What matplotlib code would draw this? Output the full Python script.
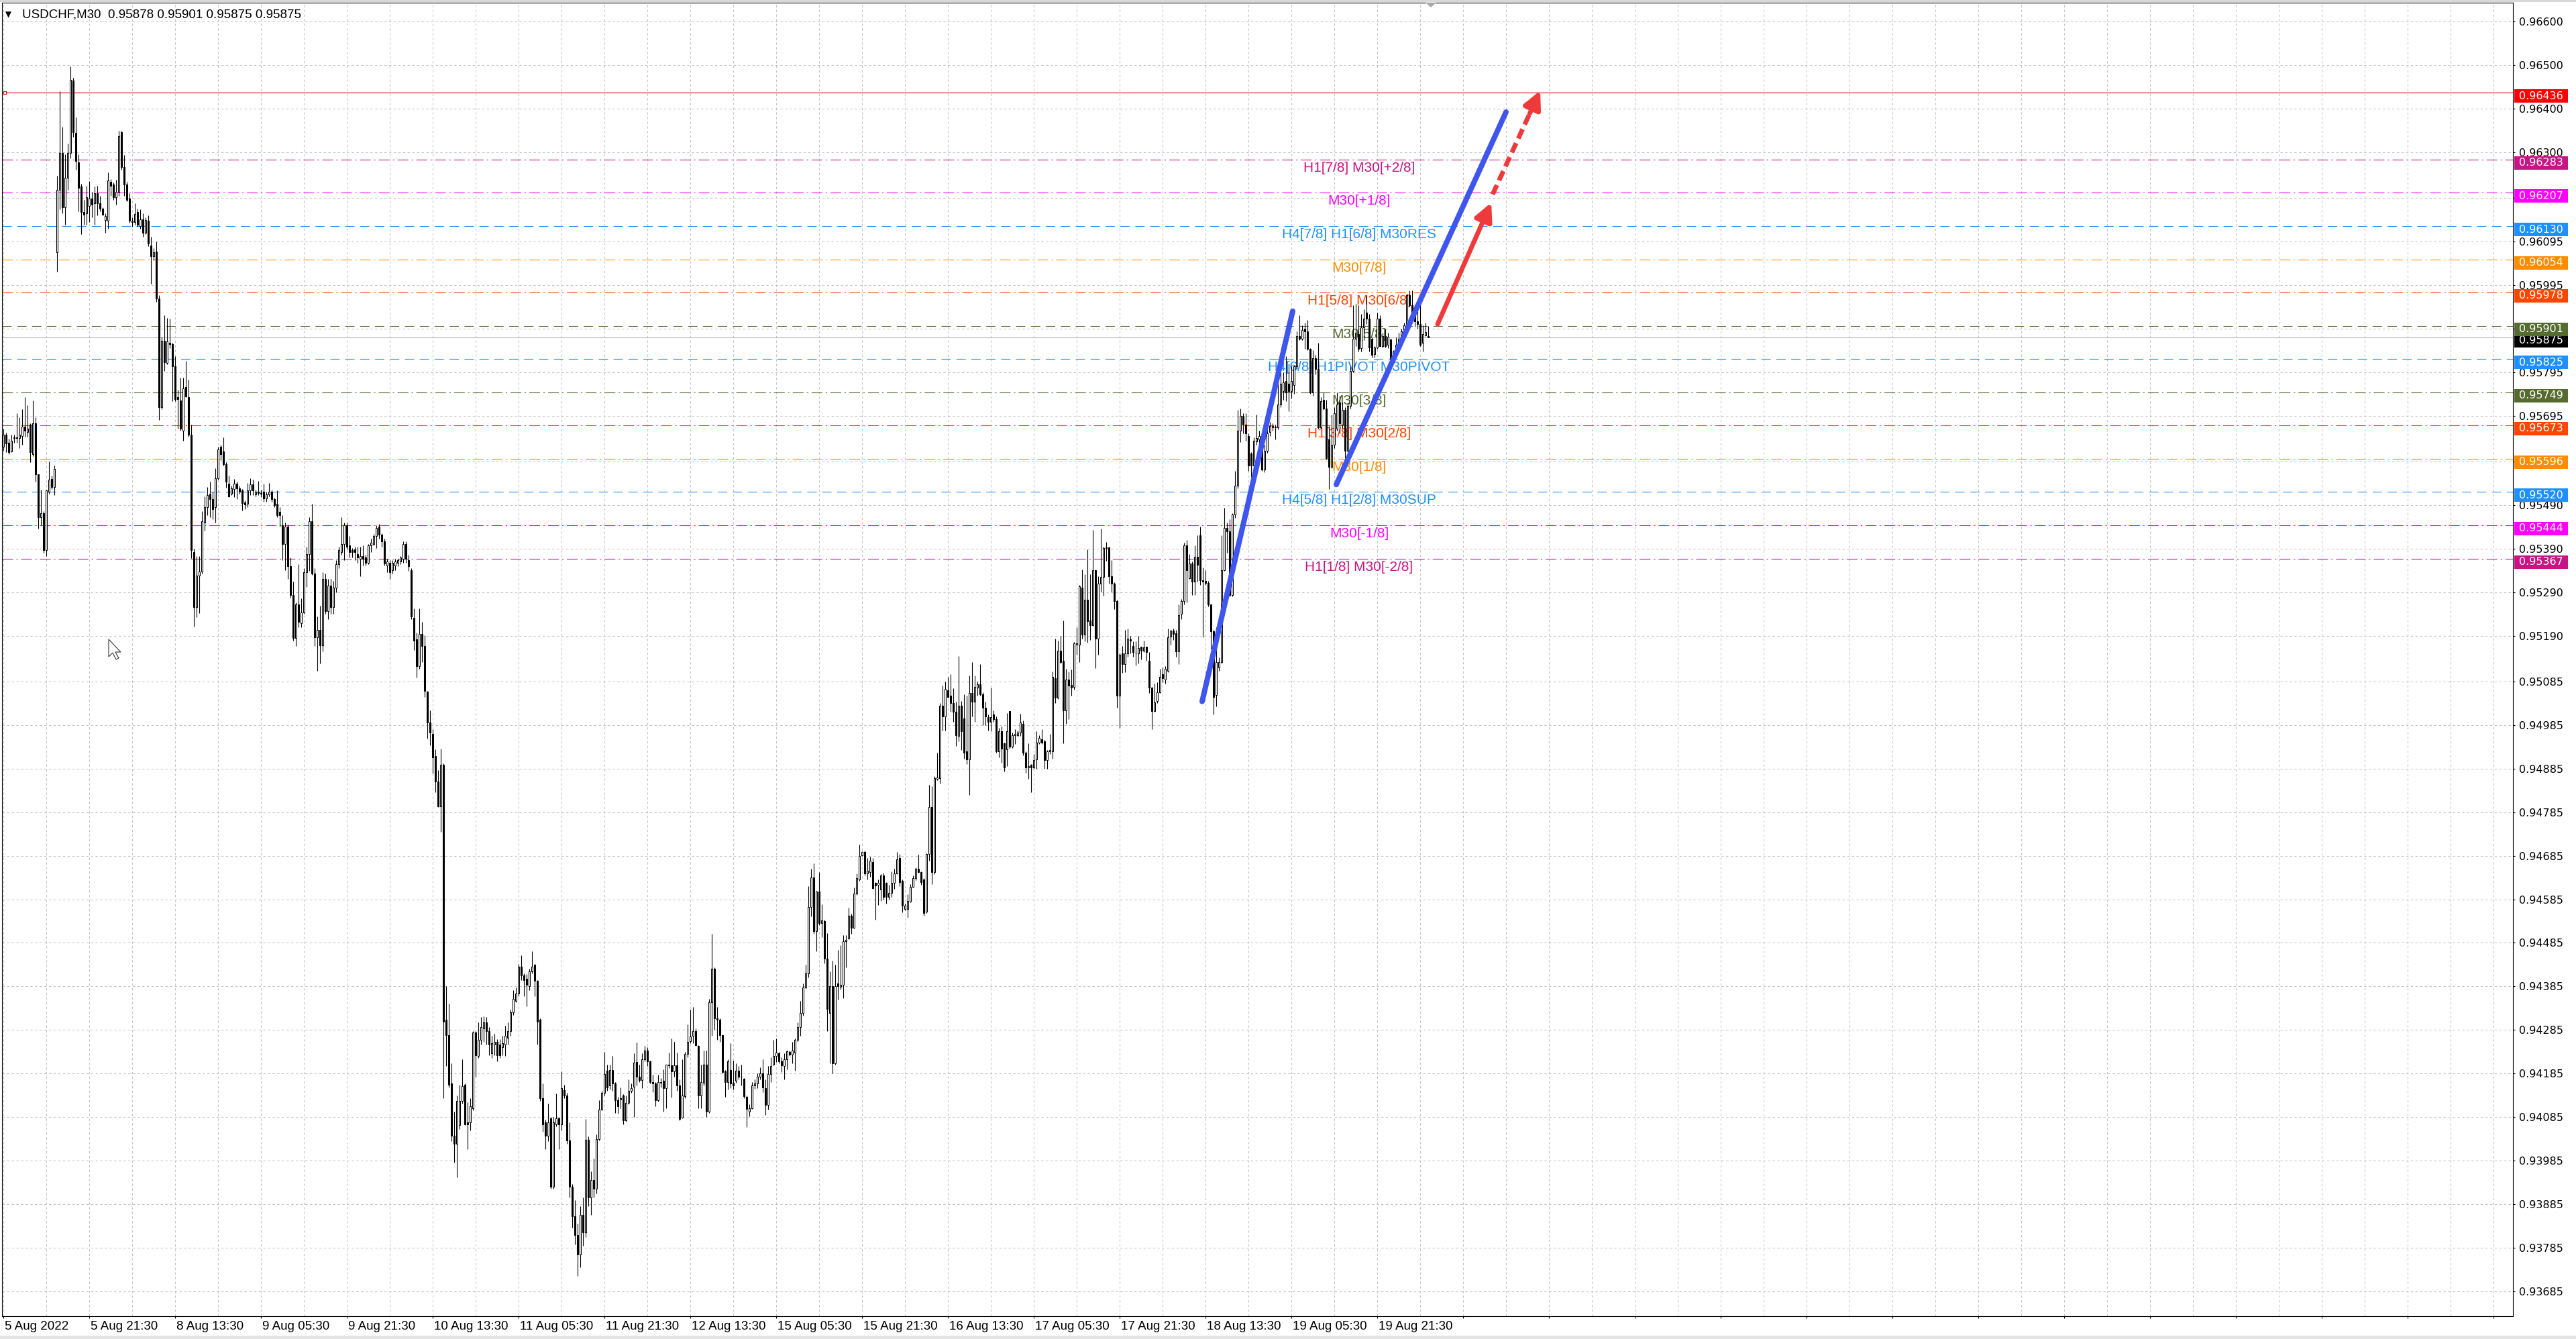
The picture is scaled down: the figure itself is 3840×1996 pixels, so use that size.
import matplotlib
matplotlib.use("Agg")
import matplotlib.pyplot as plt
import matplotlib.transforms as mtransforms
from matplotlib.patches import Rectangle, Polygon
import numpy as np

plt.rcParams['font.family'] = ['Liberation Sans', 'DejaVu Sans']
plt.rcParams['lines.scale_dashes'] = False

# USDCHF M30 candles, prices in points (1 point = 0.00001)
opens = [
    95624, 95652, 95633, 95613, 95644, 95645, 95643, 95649, 95670, 95658,
    95674, 95607, 95678, 95561, 95462, 95471, 95386, 95521, 95550, 95532,
    96070, 96214, 96298, 96173, 96241, 96298, 96464, 96344, 96277, 96221,
    96162, 96160, 96176, 96194, 96182, 96205, 96182, 96171, 96144, 96142,
    96232, 96225, 96196, 96209, 96346, 96266, 96225, 96194, 96142, 96140,
    96162, 96131, 96146, 96115, 96142, 96086, 96061, 96072, 95964, 95714,
    95867, 95816, 95863, 95859, 95809, 95737, 95730, 95661, 95760, 95737,
    95652, 95382, 95256, 95328, 95337, 95449, 95485, 95516, 95503, 95485,
    95552, 95624, 95613, 95584, 95539, 95516, 95527, 95539, 95528, 95524,
    95496, 95492, 95523, 95537, 95514, 95521, 95517, 95521, 95505, 95514,
    95521, 95503, 95492, 95474, 95444, 95400, 95440, 95349, 95283, 95185,
    95262, 95218, 95243, 95336, 95378, 95453, 95333, 95187, 95203, 95168,
    95320, 95247, 95305, 95255, 95300, 95354, 95382, 95401, 95444, 95398,
    95386, 95388, 95378, 95367, 95372, 95370, 95357, 95397, 95401, 95419,
    95440, 95422, 95407, 95351, 95357, 95341, 95351, 95357, 95361, 95367,
    95401, 95364, 95341, 95231, 95182, 95120, 95194, 95166, 95061, 94991,
    94965, 94913, 94855, 94798, 94894, 94308, 94273, 94162, 94042, 94024,
    94067, 94122, 94160, 94073, 94073, 94106, 94280, 94225, 94262, 94289,
    94302, 94283, 94231, 94252, 94258, 94252, 94246, 94252, 94267, 94283,
    94326, 94351, 94369, 94431, 94410, 94403, 94386, 94419, 94435, 94398,
    94308, 94129, 94073, 94042, 94082, 93925, 94069, 94082, 94069, 94147,
    94135, 94032, 93925, 93857, 93814, 93770, 93860, 93820, 94033, 93900,
    93940, 93920, 94035, 94102, 94140, 94192, 94158, 94193, 94162, 94124,
    94125, 94135, 94078, 94117, 94145, 94155, 94212, 94178, 94170, 94217,
    94238, 94213, 94165, 94162, 94124, 94164, 94168, 94152, 94204, 94204,
    94190, 94204, 94158, 94084, 94133, 94230, 94260, 94272, 94282, 94248,
    94135, 94164, 94206, 94097, 94348, 94426, 94312, 94308, 94273, 94190,
    94165, 94193, 94164, 94168, 94192, 94178, 94173, 94132, 94098, 94105,
    94157, 94162, 94177, 94185, 94152, 94113, 94184, 94205, 94226, 94232,
    94213, 94202, 94217, 94235, 94228, 94233, 94262, 94292, 94324, 94382,
    94415, 94568, 94635, 94512, 94602, 94530, 94535, 94448, 94324, 94386,
    94208, 94392, 94384, 94388, 94488, 94495, 94548, 94520, 94598, 94630,
    94686, 94694, 94645, 94647, 94671, 94623, 94618, 94608, 94640, 94623,
    94590, 94600, 94623, 94645, 94680, 94628, 94563, 94563, 94580, 94614,
    94633, 94655, 94647, 94631, 94557, 94689, 94797, 94647, 94862, 94863,
    95029, 95004, 95064, 95052, 95036, 95016, 94960, 95030, 95000, 94924,
    94906, 95058, 95038, 95071, 95079, 95056, 95024, 95003, 94993, 95009,
    94999, 94925, 94970, 94943, 94929, 95017, 94936, 94961, 94961, 94967,
    94988, 94921, 94888, 94894, 94888, 94906, 94945, 94953, 94947, 94905,
    94925, 94925, 95092, 95047, 95155, 95132, 95018, 95089, 95077, 95073,
    95170, 95170, 95300, 95192, 95272, 95225, 95214, 95340, 95184, 95309,
    95325, 95391, 95393, 95326, 95309, 95270, 95052, 95149, 95124, 95149,
    95182, 95166, 95151, 95149, 95164, 95155, 95164, 95132, 95071, 95017,
    95040, 95060, 95102, 95090, 95110, 95188, 95202, 95195, 95154, 95240,
    95269, 95397, 95322, 95355, 95314, 95371, 95421, 95317, 95315, 95311,
    95261, 95200, 95054, 95117, 95130, 95341, 95438, 95430, 95284, 95468,
    95534, 95661, 95695, 95675, 95648, 95608, 95581, 95636, 95641, 95648,
    95571, 95615, 95658, 95668, 95668, 95668, 95721, 95752, 95775, 95768,
    95752, 95765, 95808, 95878, 95872, 95895, 95888, 95848, 95748, 95827,
    95802, 95668, 95731, 95711, 95640, 95578, 95628, 95665, 95725, 95675,
    95708, 95615, 95718, 95798, 95872, 95882, 95850, 95898, 95932, 95918,
    95872, 95836, 95852, 95918, 95855, 95878, 95858, 95870, 95825, 95842,
    95858, 95870, 95888, 95902, 95972, 95949, 95930, 95912, 95905, 95862,
    95880, 95878]

highs = [
    95665, 95656, 95642, 95652, 95652, 95701, 95692, 95710, 95737, 95719,
    95678, 95730, 95692, 95561, 95525, 95476, 95525, 95589, 95557, 95580,
    96245, 96439, 96358, 96295, 96320, 96496, 96470, 96379, 96295, 96227,
    96191, 96223, 96234, 96209, 96221, 96223, 96200, 96173, 96160, 96254,
    96238, 96230, 96236, 96349, 96349, 96293, 96232, 96205, 96151, 96182,
    96171, 96169, 96160, 96151, 96155, 96106, 96079, 96095, 95971, 95876,
    95926, 95919, 95917, 95863, 95831, 95755, 95782, 95782, 95820, 95777,
    95674, 95390, 95373, 95373, 95476, 95510, 95532, 95543, 95521, 95575,
    95624, 95629, 95645, 95588, 95557, 95534, 95550, 95543, 95535, 95527,
    95500, 95541, 95552, 95548, 95525, 95545, 95525, 95539, 95521, 95541,
    95525, 95507, 95523, 95485, 95467, 95449, 95445, 95370, 95314, 95267,
    95354, 95275, 95345, 95394, 95462, 95493, 95345, 95234, 95259, 95336,
    95333, 95320, 95320, 95315, 95364, 95394, 95462, 95450, 95450, 95419,
    95391, 95394, 95394, 95394, 95398, 95376, 95401, 95413, 95423, 95444,
    95446, 95425, 95413, 95367, 95364, 95364, 95366, 95367, 95373, 95407,
    95407, 95376, 95345, 95252, 95197, 95252, 95222, 95191, 95063, 95018,
    94975, 94929, 94882, 94931, 94897, 94386, 94345, 94209, 94098, 94135,
    94160, 94218, 94163, 94119, 94129, 94283, 94283, 94302, 94314, 94316,
    94314, 94292, 94271, 94277, 94264, 94264, 94271, 94295, 94302, 94332,
    94376, 94382, 94437, 94456, 94415, 94413, 94425, 94465, 94437, 94400,
    94311, 94163, 94079, 94116, 94085, 94085, 94139, 94085, 94190, 94160,
    94141, 94073, 93931, 93894, 93840, 93880, 93900, 94080, 94040, 93960,
    93990, 94045, 94124, 94145, 94235, 94206, 94206, 94226, 94165, 94132,
    94153, 94138, 94135, 94172, 94162, 94232, 94257, 94205, 94232, 94248,
    94245, 94215, 94183, 94166, 94182, 94175, 94195, 94206, 94233, 94266,
    94258, 94233, 94172, 94217, 94235, 94298, 94332, 94338, 94289, 94250,
    94206, 94238, 94238, 94357, 94505, 94428, 94338, 94312, 94275, 94193,
    94218, 94255, 94215, 94208, 94202, 94206, 94175, 94135, 94115, 94165,
    94172, 94185, 94200, 94217, 94172, 94202, 94222, 94262, 94265, 94235,
    94222, 94232, 94238, 94238, 94258, 94265, 94302, 94352, 94392, 94435,
    94615, 94655, 94668, 94605, 94648, 94573, 94538, 94508, 94420, 94444,
    94435, 94468, 94480, 94502, 94502, 94566, 94552, 94612, 94644, 94710,
    94695, 94697, 94680, 94683, 94680, 94625, 94631, 94643, 94646, 94625,
    94618, 94649, 94655, 94694, 94689, 94631, 94575, 94597, 94620, 94639,
    94658, 94688, 94649, 94634, 94691, 94847, 94844, 94868, 94921, 95035,
    95075, 95084, 95096, 95101, 95069, 95038, 95143, 95040, 95055, 95053,
    95098, 95129, 95098, 95084, 95124, 95060, 95038, 95009, 95071, 95019,
    95004, 94979, 94982, 94945, 95013, 95017, 94968, 94976, 94973, 95011,
    94995, 94924, 94943, 94896, 94918, 94970, 94961, 94976, 94950, 94927,
    94964, 95108, 95184, 95178, 95189, 95225, 95114, 95108, 95112, 95175,
    95209, 95306, 95342, 95331, 95388, 95331, 95433, 95342, 95326, 95435,
    95394, 95405, 95394, 95363, 95312, 95272, 95149, 95167, 95203, 95206,
    95189, 95177, 95177, 95190, 95165, 95178, 95165, 95153, 95072, 95080,
    95083, 95114, 95117, 95120, 95207, 95204, 95206, 95204, 95262, 95274,
    95404, 95409, 95377, 95361, 95397, 95421, 95441, 95347, 95341, 95315,
    95262, 95204, 95210, 95140, 95420, 95484, 95450, 95458, 95471, 95568,
    95709, 95711, 95701, 95701, 95655, 95612, 95645, 95698, 95660, 95650,
    95628, 95668, 95681, 95678, 95675, 95782, 95795, 95795, 95832, 95815,
    95808, 95810, 95888, 95925, 95903, 95908, 95915, 95850, 95845, 95835,
    95862, 95738, 95748, 95731, 95671, 95698, 95715, 95748, 95741, 95725,
    95715, 95725, 95808, 95949, 95952, 95949, 95929, 95939, 95972, 95929,
    95875, 95855, 95932, 95925, 95885, 95895, 95885, 95872, 95845, 95875,
    95885, 95895, 95908, 95975, 95982, 95982, 95950, 95935, 95962, 95902,
    95908, 95901]

lows = [
    95615, 95611, 95606, 95611, 95633, 95633, 95620, 95629, 95647, 95647,
    95588, 95602, 95543, 95436, 95444, 95381, 95373, 95516, 95526, 95512,
    96025, 96169, 96160, 96133, 96214, 96286, 96335, 96259, 96164, 96111,
    96133, 96133, 96140, 96151, 96133, 96155, 96164, 96155, 96115, 96124,
    96200, 96191, 96180, 96200, 96259, 96200, 96187, 96138, 96128, 96133,
    96128, 96124, 96106, 96111, 96084, 95998, 96052, 95957, 95685, 95710,
    95798, 95813, 95850, 95728, 95728, 95665, 95661, 95638, 95737, 95647,
    95368, 95211, 95233, 95242, 95332, 95431, 95467, 95462, 95458, 95449,
    95548, 95593, 95580, 95530, 95508, 95512, 95508, 95503, 95516, 95478,
    95481, 95485, 95512, 95512, 95510, 95512, 95508, 95498, 95498, 95510,
    95498, 95485, 95462, 95440, 95364, 95341, 95320, 95277, 95178, 95166,
    95209, 95209, 95240, 95302, 95339, 95329, 95166, 95110, 95126, 95154,
    95240, 95228, 95240, 95240, 95290, 95345, 95376, 95364, 95388, 95370,
    95370, 95364, 95357, 95327, 95351, 95351, 95354, 95382, 95398, 95391,
    95413, 95394, 95351, 95336, 95320, 95333, 95341, 95349, 95354, 95357,
    95357, 95339, 95228, 95157, 95094, 95114, 95129, 95049, 94954, 94938,
    94873, 94830, 94796, 94740, 94129, 94203, 94153, 94030, 93980, 93946,
    94057, 94116, 94067, 94011, 94055, 94101, 94178, 94221, 94252, 94258,
    94252, 94227, 94221, 94227, 94213, 94221, 94227, 94225, 94252, 94271,
    94320, 94348, 94363, 94400, 94363, 94339, 94376, 94415, 94363, 94252,
    94122, 94052, 94011, 94030, 93921, 93921, 94064, 94011, 94055, 94129,
    94024, 93900, 93832, 93793, 93720, 93740, 93790, 93810, 93880, 93860,
    93900, 93910, 94032, 94100, 94135, 94145, 94148, 94146, 94095, 94093,
    94105, 94068, 94074, 94115, 94141, 94085, 94158, 94165, 94152, 94213,
    94202, 94162, 94142, 94110, 94120, 94153, 94097, 94105, 94198, 94130,
    94178, 94145, 94078, 94082, 94128, 94222, 94255, 94255, 94248, 94105,
    94105, 94158, 94085, 94095, 94272, 94285, 94262, 94258, 94185, 94132,
    94148, 94152, 94148, 94164, 94172, 94158, 94128, 94062, 94087, 94104,
    94150, 94152, 94172, 94142, 94090, 94102, 94166, 94204, 94212, 94208,
    94188, 94172, 94195, 94225, 94208, 94192, 94258, 94272, 94318, 94380,
    94405, 94545, 94505, 94465, 94525, 94498, 94438, 94282, 94208, 94186,
    94206, 94355, 94378, 94358, 94428, 94493, 94505, 94518, 94595, 94628,
    94684, 94640, 94630, 94637, 94609, 94538, 94572, 94581, 94584, 94575,
    94584, 94590, 94609, 94643, 94615, 94555, 94560, 94542, 94578, 94612,
    94629, 94646, 94618, 94547, 94554, 94674, 94620, 94643, 94859, 94850,
    94973, 94972, 95047, 95016, 94992, 94937, 94948, 94927, 94908, 94896,
    94825, 95005, 94992, 95053, 95053, 94985, 94985, 94972, 94970, 94992,
    94921, 94910, 94899, 94879, 94890, 94930, 94933, 94942, 94958, 94960,
    94916, 94876, 94862, 94831, 94884, 94884, 94941, 94942, 94884, 94885,
    94918, 94908, 95035, 95044, 95127, 94943, 94987, 94998, 95053, 95066,
    95146, 95129, 95183, 95177, 95174, 95180, 95212, 95115, 95146, 95291,
    95282, 95362, 95309, 95291, 95251, 95024, 94978, 95104, 95106, 95141,
    95149, 95141, 95122, 95127, 95135, 95153, 95132, 95058, 94976, 95015,
    95035, 95058, 95083, 95080, 95107, 95170, 95180, 95142, 95124, 95228,
    95261, 95267, 95320, 95284, 95284, 95314, 95307, 95187, 95307, 95257,
    95160, 95010, 95027, 95110, 95127, 95339, 95380, 95281, 95281, 95461,
    95528, 95635, 95655, 95638, 95568, 95554, 95578, 95628, 95630, 95568,
    95565, 95610, 95648, 95660, 95641, 95664, 95715, 95731, 95728, 95705,
    95735, 95745, 95802, 95868, 95869, 95848, 95845, 95745, 95741, 95790,
    95665, 95665, 95708, 95595, 95526, 95575, 95620, 95661, 95655, 95665,
    95598, 95611, 95711, 95795, 95855, 95842, 95842, 95868, 95905, 95842,
    95828, 95828, 95848, 95854, 95852, 95852, 95850, 95820, 95820, 95835,
    95852, 95865, 95882, 95900, 95945, 95912, 95900, 95895, 95855, 95842,
    95878, 95875]

closes = [
    95652, 95631, 95611, 95638, 95645, 95644, 95652, 95670, 95661, 95665,
    95611, 95678, 95561, 95462, 95471, 95386, 95523, 95548, 95532, 95573,
    96214, 96298, 96173, 96241, 96298, 96466, 96346, 96279, 96218, 96162,
    96157, 96196, 96194, 96180, 96205, 96182, 96171, 96157, 96153, 96235,
    96223, 96196, 96209, 96337, 96266, 96225, 96191, 96142, 96140, 96158,
    96133, 96146, 96115, 96144, 96090, 96061, 96070, 95964, 95714, 95867,
    95818, 95865, 95859, 95809, 95733, 95733, 95665, 95757, 95739, 95652,
    95386, 95256, 95328, 95337, 95453, 95485, 95512, 95503, 95481, 95552,
    95618, 95607, 95584, 95543, 95510, 95528, 95539, 95528, 95521, 95494,
    95491, 95524, 95537, 95523, 95521, 95517, 95516, 95505, 95514, 95521,
    95503, 95490, 95467, 95467, 95400, 95440, 95350, 95283, 95185, 95262,
    95222, 95243, 95336, 95378, 95453, 95333, 95187, 95203, 95168, 95320,
    95247, 95305, 95255, 95300, 95354, 95386, 95401, 95444, 95394, 95382,
    95382, 95382, 95370, 95372, 95366, 95357, 95397, 95403, 95419, 95438,
    95422, 95407, 95355, 95360, 95336, 95357, 95360, 95364, 95370, 95401,
    95366, 95349, 95234, 95178, 95120, 95194, 95166, 95063, 94991, 94968,
    94910, 94855, 94798, 94894, 94304, 94273, 94160, 94042, 94024, 94122,
    94122, 94156, 94069, 94069, 94110, 94280, 94227, 94262, 94292, 94302,
    94283, 94252, 94255, 94258, 94227, 94227, 94255, 94271, 94283, 94326,
    94357, 94369, 94431, 94410, 94400, 94388, 94419, 94431, 94398, 94304,
    94129, 94069, 94042, 94073, 93925, 94073, 94082, 94069, 94151, 94135,
    94032, 93925, 93857, 93814, 93770, 93860, 93820, 94033, 93900, 93940,
    93920, 94035, 94102, 94140, 94184, 94153, 94193, 94162, 94124, 94110,
    94128, 94078, 94117, 94146, 94152, 94210, 94177, 94170, 94217, 94238,
    94213, 94165, 94162, 94124, 94165, 94166, 94152, 94205, 94205, 94190,
    94204, 94157, 94080, 94135, 94230, 94258, 94270, 94282, 94250, 94135,
    94165, 94206, 94097, 94348, 94426, 94312, 94308, 94273, 94188, 94165,
    94213, 94162, 94158, 94192, 94178, 94178, 94133, 94104, 94105, 94157,
    94162, 94177, 94185, 94153, 94113, 94184, 94202, 94226, 94233, 94213,
    94204, 94217, 94237, 94228, 94238, 94262, 94292, 94324, 94382, 94415,
    94568, 94635, 94512, 94602, 94530, 94537, 94448, 94333, 94386, 94208,
    94386, 94385, 94388, 94488, 94492, 94548, 94520, 94598, 94633, 94685,
    94694, 94645, 94650, 94674, 94610, 94617, 94623, 94640, 94590, 94590,
    94600, 94623, 94645, 94677, 94624, 94571, 94571, 94581, 94614, 94634,
    94655, 94647, 94624, 94554, 94689, 94797, 94647, 94863, 94864, 95029,
    95004, 95067, 95050, 95035, 95016, 94961, 95030, 94970, 94921, 94906,
    95058, 95038, 95072, 95079, 95056, 95024, 95004, 94993, 95003, 94999,
    94924, 94970, 94931, 94888, 94970, 94935, 94961, 94964, 94968, 94990,
    94921, 94888, 94890, 94887, 94905, 94945, 94955, 94945, 94905, 94925,
    94927, 95095, 95047, 95155, 95130, 95018, 95089, 95075, 95071, 95172,
    95172, 95303, 95192, 95272, 95223, 95214, 95340, 95184, 95309, 95325,
    95391, 95392, 95326, 95309, 95270, 95052, 95147, 95124, 95149, 95183,
    95178, 95153, 95151, 95161, 95155, 95163, 95152, 95071, 95017, 95037,
    95060, 95095, 95092, 95114, 95187, 95202, 95194, 95154, 95237, 95269,
    95397, 95341, 95355, 95314, 95371, 95353, 95317, 95314, 95311, 95261,
    95200, 95050, 95130, 95130, 95341, 95438, 95430, 95284, 95468, 95534,
    95661, 95695, 95675, 95655, 95581, 95580, 95638, 95643, 95648, 95571,
    95615, 95655, 95671, 95671, 95670, 95721, 95768, 95772, 95748, 95752,
    95775, 95808, 95878, 95872, 95892, 95888, 95848, 95748, 95827, 95802,
    95668, 95728, 95711, 95598, 95578, 95628, 95701, 95721, 95678, 95708,
    95615, 95718, 95798, 95872, 95885, 95848, 95898, 95918, 95918, 95852,
    95835, 95852, 95918, 95855, 95878, 95855, 95876, 95825, 95842, 95858,
    95872, 95888, 95902, 95972, 95949, 95915, 95912, 95905, 95858, 95883,
    95887, 95875]

# time axis labels, one every 32 bars
date_labels = ['5 Aug 2022', '5 Aug 21:30', '8 Aug 13:30', '9 Aug 05:30', '9 Aug 21:30',
               '10 Aug 13:30', '11 Aug 05:30', '11 Aug 21:30', '12 Aug 13:30',
               '15 Aug 05:30', '15 Aug 21:30', '16 Aug 13:30', '17 Aug 05:30',
               '17 Aug 21:30', '18 Aug 13:30', '19 Aug 05:30', '19 Aug 21:30']

price_ticks = [0.96600, 0.96500, 0.96400, 0.96300, 0.96195, 0.96095, 0.95995, 0.95895,
               0.95795, 0.95695, 0.95590, 0.95490, 0.95390, 0.95290, 0.95190, 0.95085,
               0.94985, 0.94885, 0.94785, 0.94685, 0.94585, 0.94485, 0.94385, 0.94285,
               0.94185, 0.94085, 0.93985, 0.93885, 0.93785, 0.93685]
hidden_ticks = [0.96195, 0.95895, 0.95590]

# Murrey math levels
level_prices = [0.96283, 0.96207, 0.96130, 0.96054, 0.95978, 0.95901, 0.95825,
                0.95749, 0.95673, 0.95596, 0.95520, 0.95444, 0.95367]
level_names = ['H1[7/8] M30[+2/8]', 'M30[+1/8]', 'H4[7/8] H1[6/8] M30RES', 'M30[7/8]',
               'H1[5/8] M30[6/8]', 'M30[5/8]', 'H4[6/8] H1PIVOT M30PIVOT', 'M30[3/8]',
               'H1[3/8] M30[2/8]', 'M30[1/8]', 'H4[5/8] H1[2/8] M30SUP', 'M30[-1/8]',
               'H1[1/8] M30[-2/8]']
level_colors = ['#C71585', '#FF00FF', '#1E90FF', '#FF8C00', '#FF4500', '#556B2F', '#1E90FF',
                '#556B2F', '#FF4500', '#FF8C00', '#1E90FF', '#FF00FF', '#C71585']
level_kinds = ['dashdot', 'dashdot', 'dash', 'dashdot', 'dashdot', 'dash', 'dash',
               'dashdot', 'dashdot', 'dashdot', 'dash', 'dashdot', 'dashdot']

red_level = 0.96436
last_price = 0.95875
header = 'USDCHF,M30  0.95878 0.95901 0.95875 0.95875'

# hand-drawn trend lines and arrows (bar index, price)
trend1_x, trend1_y = [446.75, 480.5], [0.95039, 0.95935]
trend2_x, trend2_y = [496.75, 560.0], [0.95537, 0.96392]
arrow1_x, arrow1_y = [534.5, 554.5], [0.95905, 0.96184]
arrow2_x, arrow2_y = [555.0, 572.75], [0.96203, 0.96441]

# ---------------------------------------------------------------
W, H = 3840, 1996
fig = plt.figure(figsize=(W / 100, H / 100), dpi=100)
fig.patch.set_facecolor('white')
ax_l, ax_r, ax_t, ax_b = 3, 3746, 4, 1962
ax = fig.add_axes([ax_l / W, (H - ax_b) / H, (ax_r - ax_l) / W, (ax_b - ax_t) / H])
ax.set_facecolor('white')

ymax, ymin = 0.96643, 0.93628
ax.set_ylim(ymin, ymax)
ax.set_xlim(-0.5, 935.25)
pp = (ymax - ymin) / (ax_b - ax_t)   # price per pixel
axw = ax_r - ax_l

# grid
grid_ls = (0, (2.5, 2.5))
for gx in range(0, 936, 16):
    ax.axvline(gx, color='#C4C4C4', lw=0.75, ls=grid_ls, zorder=0)
for gy in price_ticks:
    ax.axhline(gy, color='#C4C4C4', lw=0.75, ls=grid_ls, zorder=0)

# levels
styles = {'dashdot': (0, (11.5, 3.6, 1.5, 3.6)), 'dash': (0, (10, 6))}
for p, name, col, kind in zip(level_prices, level_names, level_colors, level_kinds):
    ax.axhline(p, color=col, lw=0.8, ls=styles[kind], zorder=1)
    ax.annotate(name, (505.25, p), xytext=(0, -3), textcoords='offset pixels',
                ha='center', va='top', color=col, fontsize=15, zorder=2)
ax.axhline(red_level, color='#E00000', lw=0.8, zorder=1)
ax.plot([0.6], [red_level], marker='s', ms=3.5, mfc='white', mec='#E00000', mew=0.8, zorder=2)
ax.axhline(last_price, color='#B8B8B8', lw=0.8, zorder=1)

# candles
o = np.array(opens) / 1e5
h = np.array(highs) / 1e5
l = np.array(lows) / 1e5
c = np.array(closes) / 1e5
x = np.arange(len(c))
up = c >= o
ax.vlines(x, l, h, color='black', lw=0.8, zorder=3)
ax.bar(x, np.abs(c - o), bottom=np.minimum(o, c), width=0.6,
       color=np.where(up, 'white', 'black'), edgecolor='black', linewidth=0.75, zorder=4)

# trend lines / arrows
blue = '#3F56EE'
red = '#EE3A3A'
ax.plot(trend1_x, trend1_y, color=blue, lw=5.8, solid_capstyle='round', zorder=6)
ax.plot(trend2_x, trend2_y, color=blue, lw=5.8, solid_capstyle='round', zorder=6)
ax.annotate('', xy=(arrow1_x[1], arrow1_y[1]), xytext=(arrow1_x[0], arrow1_y[0]),
            arrowprops=dict(arrowstyle='-|>,head_length=0.8,head_width=0.4', color=red,
                            lw=5, shrinkA=0, shrinkB=0, mutation_scale=20,
                            capstyle='round'), zorder=6)
fx = arrow2_x[0] + 0.78 * (arrow2_x[1] - arrow2_x[0])
fy = arrow2_y[0] + 0.78 * (arrow2_y[1] - arrow2_y[0])
ax.plot([arrow2_x[0], fx], [arrow2_y[0], fy], color=red, lw=5, ls=(0, (11, 5.5)), zorder=6)
ax.annotate('', xy=(arrow2_x[1], arrow2_y[1]), xytext=(fx, fy),
            arrowprops=dict(arrowstyle='-|>,head_length=0.8,head_width=0.4', color=red,
                            lw=5, shrinkA=0, shrinkB=0, mutation_scale=20), zorder=6)

# axes and ticks
for s in ax.spines.values():
    s.set_color('black')
    s.set_linewidth(0.8)
ax.yaxis.tick_right()
ax.set_yticks(price_ticks)
ax.set_yticklabels(['' if t in hidden_ticks else f'{t:.5f}' for t in price_ticks])
ax.tick_params(axis='y', length=2.2, pad=4.5, labelsize=11.5, labelfontfamily='DejaVu Sans',
               colors='black')
xt = list(range(0, 929, 32))
ax.set_xticks(xt)
ax.set_xticklabels(date_labels + [''] * (len(xt) - len(date_labels)))
ax.tick_params(axis='x', length=2.2, pad=2.5, labelsize=13.5)
shift = mtransforms.ScaledTranslation(2 / 100, 0, fig.dpi_scale_trans)
for lab in ax.get_xticklabels():
    lab.set_horizontalalignment('left')
    lab.set_transform(lab.get_transform() + shift)

# price labels on the right scale
tb = mtransforms.blended_transform_factory(ax.transAxes, ax.transData)
box_x = 1 + 2 / axw
box_w = 80 / axw
txt_x = 1 + 9 / axw


def price_box(p, face, z):
    yc = p - 5 * pp
    ax.add_patch(Rectangle((box_x, yc - 10 * pp), box_w, 20 * pp, transform=tb,
                           facecolor=face, edgecolor='none', clip_on=False, zorder=z))
    ax.text(txt_x, yc, f'{p:.5f}', transform=tb, color='white', fontsize=11.5,
            family='DejaVu Sans', va='center', ha='left', clip_on=False, zorder=z + 0.1)


price_box(last_price, 'black', 7)
price_box(red_level, '#FF0000', 8)
for p, col in zip(level_prices, level_colors):
    price_box(p, col, 8)

# window decorations
fig.text(33 / W, 1 - 22 / H, header, fontsize=13.5, va='center', ha='left')
fig.text(8 / W, 1 - 22 / H, '\u25BC', fontsize=8.5, va='center', ha='left',
         family='DejaVu Sans')
fig.patches.append(Rectangle((0, 0), 1, 5 / H, transform=fig.transFigure,
                             facecolor='#E4E4E4', edgecolor='none'))
fig.patches.append(Rectangle((0, 1 - 3 / H), 1, 3 / H, transform=fig.transFigure,
                             facecolor='#D8D8D8', edgecolor='none'))
tri = [(2125, 4), (2141, 4), (2133, 11)]
fig.patches.append(Polygon([(px / W, 1 - py / H) for px, py in tri], closed=True,
                           transform=fig.transFigure, facecolor='#A8A8A8', edgecolor='none'))
cur = [(0, 0), (0, 26), (6, 20), (11, 30), (15, 28), (10, 19), (18, 19)]
fig.patches.append(Polygon([((162 + px) / W, 1 - (953 + py) / H) for px, py in cur],
                           closed=True, transform=fig.transFigure, facecolor='white',
                           edgecolor='#333333', linewidth=0.8, zorder=10))

fig.savefig('out.png', dpi=100, facecolor='white')
